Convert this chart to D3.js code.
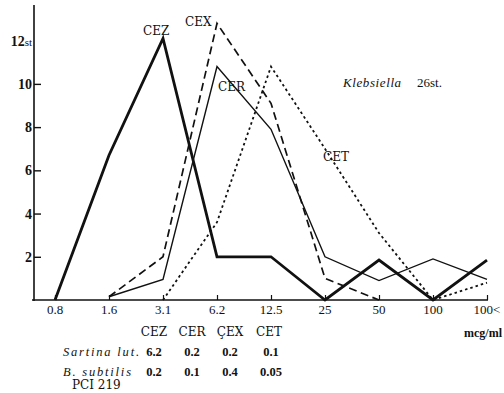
<!DOCTYPE html>
<html><head><meta charset="utf-8">
<script src="https://cdn.jsdelivr.net/npm/d3@7"></script>
<style>
body{margin:0;background:#fff;}
svg{display:block;}
</style></head>
<body><svg id="c" width="504" height="393" font-family="'Liberation Serif', 'DejaVu Serif', serif"></svg>
<script>
const categories = ["0.8","1.6","3.1","6.2","12.5","25","50","100","100<"];
const cezValues = [0, 6.7, 12.1, 2, 2, 0, 1.85, 0, 1.85];
const cerValues = [null, 0.15, 0.95, 10.8, 7.9, 2.0, 0.9, 1.9, 0.95];
const cexValues = [null, 0.15, 2.0, 12.8, 9.1, 1.0, 0, null, null];
const cetValues = [null, null, 0, 3.6, 10.8, 7.0, 3.1, 0, 0.8];
const yTicks = [2, 4, 6, 8, 10, 12];
const seriesNames = ["CEZ", "CER", "ÇEX", "CET"];
const tableRows = ["Sartina lut.", "B. subtilis"];
const sartinaValues = ["6.2", "0.2", "0.2", "0.1"];
const subtilisValues = ["0.2", "0.1", "0.4", "0.05"];

const svg = d3.select("#c");
const x = d3.scalePoint().domain(categories).range([55, 487]);
const y = d3.scaleLinear().domain([0, 13.65]).range([300, 5]);
const axisX = 34;
const ink = "#111";
const wide = "'DejaVu Serif', serif";

// y axis
svg.append("line").attr("x1", axisX).attr("x2", axisX).attr("y1", 5).attr("y2", 301)
  .attr("stroke", ink).attr("stroke-width", 1.6);
const yAx = svg.append("g").attr("transform", `translate(${axisX},0)`)
  .call(d3.axisRight(y).tickValues(yTicks.slice(0, 5)).tickSize(7).tickFormat(""));
yAx.select(".domain").remove();
yAx.selectAll("line").attr("stroke", ink).attr("stroke-width", 1.4);
yTicks.forEach(v => {
  const t = svg.append("text").attr("x", 32).attr("y", y(v) + 5)
    .attr("text-anchor", "end").attr("font-weight", "bold").attr("font-size", 14).attr("fill", ink);
  if (v === 12) {
    t.text("12");
    t.append("tspan").attr("font-size", 11).attr("font-weight", "normal").text("st");
  } else t.text(v);
});

// x axis
svg.append("line").attr("x1", 32).attr("x2", 488).attr("y1", 300).attr("y2", 300)
  .attr("stroke", ink).attr("stroke-width", 1.6);
const xAx = svg.append("g").attr("transform", "translate(0,300)")
  .call(d3.axisTop(x).tickSize(5).tickFormat(""));
xAx.select(".domain").remove();
xAx.selectAll("line").attr("stroke", ink).attr("stroke-width", 1.2);
categories.forEach(c => {
  svg.append("text").attr("x", x(c)).attr("y", 314).attr("text-anchor", "middle")
    .attr("font-size", 13).attr("fill", ink).text(c);
});
svg.append("text").attr("x", 502).attr("y", 337).attr("text-anchor", "end")
  .attr("font-size", 12).attr("font-weight", "bold").attr("fill", ink).text("mcg/ml");

// lines
const line = d3.line().defined(d => d.v !== null).x(d => x(d.c)).y(d => y(d.v));
function draw(vals, w, dash) {
  svg.append("path").datum(vals.map((v, i) => ({c: categories[i], v})))
    .attr("d", line).attr("fill", "none").attr("stroke", ink)
    .attr("stroke-width", w).attr("stroke-dasharray", dash)
    .attr("stroke-linejoin", "miter");
}
draw(cetValues, 1.8, "2.5,3");
draw(cexValues, 1.7, "8,4.5");
draw(cerValues, 1.4, null);
draw(cezValues, 2.8, null);

// series labels
const lab = (t, px, py) => svg.append("text").attr("x", px).attr("y", py)
  .attr("font-family", wide).attr("font-size", 12).attr("fill", ink).text(t);
lab("CEZ", 143, 35);
lab("CEX", 185, 26);
lab("CER", 218, 91);
lab("CET", 323, 161);

svg.append("text").attr("x", 343).attr("y", 87).attr("font-size", 13).attr("fill", ink)
  .attr("font-style", "italic").attr("letter-spacing", 0.6).text("Klebsiella");
svg.append("text").attr("x", 417).attr("y", 87).attr("font-size", 13).attr("fill", ink).text("26st.");

// table
const colX = [154, 192, 230, 269];
seriesNames.forEach((s, i) => {
  svg.append("text").attr("x", colX[i]).attr("y", 336).attr("text-anchor", "middle")
    .attr("font-family", wide).attr("font-size", 12).attr("fill", ink).text(s);
});
[sartinaValues, subtilisValues].forEach((vals, r) => {
  const yy = 356 + r * 20;
  svg.append("text").attr("x", 63).attr("y", yy).attr("font-size", 12.5).attr("fill", ink)
    .attr("font-style", "italic").attr("letter-spacing", 1.8).text(tableRows[r]);
  vals.forEach((v, i) => {
    svg.append("text").attr("x", colX[i] + (i === 3 ? 2 : 0)).attr("y", yy).attr("fill", ink)
      .attr("text-anchor", "middle").attr("font-size", 12.5).attr("font-weight", "bold").text(v);
  });
});
svg.append("text").attr("x", 72).attr("y", 389).attr("font-family", wide)
  .attr("font-size", 12).attr("fill", ink).text("PCI 219");
</script></body></html>
